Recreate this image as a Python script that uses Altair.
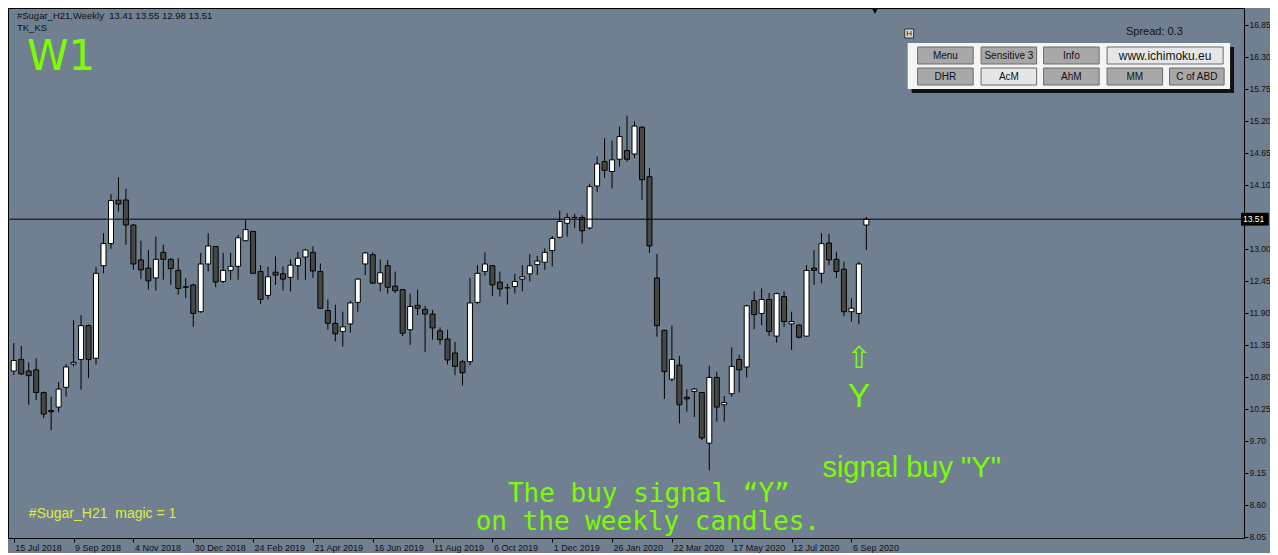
import altair as alt
import pandas as pd

# ---------------- data ----------------
opens = [10.90, 11.10, 10.90, 10.92, 10.53, 10.22, 10.28, 10.62, 11.02, 11.10,
         11.68, 11.12, 12.71, 13.09, 13.84, 13.84, 13.41, 12.81, 12.67, 12.50,
         12.94, 12.82, 12.63, 12.35, 12.38, 11.92, 12.74, 13.04, 12.44, 12.63,
         12.70, 13.14, 13.30, 12.61, 12.20, 12.60, 12.57, 12.51, 12.71, 12.86,
         12.94, 12.61, 11.94, 11.72, 11.58, 11.71, 12.08, 12.74, 12.90, 12.41,
         12.71, 12.36, 12.30, 11.61, 12.03, 11.96, 11.88, 11.59, 11.45, 11.21,
         11.06, 11.06, 12.08, 12.61, 12.71, 12.43, 12.33, 12.35, 12.48, 12.57,
         12.73, 12.77, 12.97, 13.20, 13.44, 13.54, 13.54, 13.36, 14.08, 14.50,
         14.33, 14.54, 14.69, 14.63, 15.09, 14.24, 12.50, 11.60, 10.76, 11.00,
         10.45, 10.55, 10.53, 9.66, 10.79, 10.32, 10.51, 11.10, 10.97, 12.11,
         11.89, 12.13, 11.50, 12.18, 11.71, 11.69, 11.50, 12.67, 12.58, 13.10,
         12.82, 12.65, 11.92, 11.89, 13.41]
highs = [11.38, 11.33, 11.05, 11.12, 10.55, 10.46, 10.71, 11.02, 11.78, 11.86,
         11.70, 12.69, 13.27, 13.94, 14.23, 14.03, 13.42, 13.14, 12.98, 13.21,
         13.07, 12.84, 12.84, 12.50, 12.40, 12.93, 13.27, 13.05, 12.93, 12.93,
         13.24, 13.50, 13.31, 12.72, 12.69, 12.87, 12.70, 12.82, 12.95, 13.00,
         13.04, 12.75, 12.13, 12.04, 11.92, 12.11, 12.50, 12.95, 12.94, 12.82,
         12.81, 12.61, 12.31, 12.23, 12.30, 12.02, 11.95, 11.65, 11.61, 11.40,
         11.09, 12.50, 12.72, 12.94, 12.72, 12.61, 12.40, 12.57, 12.72, 12.91,
         12.88, 13.01, 13.22, 13.66, 13.61, 13.60, 13.58, 14.12, 14.59, 14.90,
         14.86, 15.10, 15.29, 15.19, 15.11, 14.39, 12.91, 11.61, 11.68, 11.16,
         10.59, 10.61, 10.54, 10.99, 10.89, 10.47, 11.31, 11.18, 12.04, 12.27,
         12.32, 12.24, 12.25, 12.27, 11.92, 11.70, 12.72, 12.98, 13.27, 13.26,
         12.95, 12.78, 12.15, 12.78, 13.55]
lows = [10.83, 10.83, 10.32, 10.40, 10.09, 9.88, 10.19, 10.46, 10.98, 10.58,
        10.78, 11.01, 12.58, 13.00, 13.64, 13.07, 12.64, 12.48, 12.30, 12.28,
        12.47, 12.38, 12.21, 12.15, 11.66, 11.90, 12.61, 12.34, 12.41, 12.47,
        12.47, 13.13, 12.58, 12.05, 12.13, 12.38, 12.28, 12.27, 12.47, 12.47,
        12.50, 11.98, 11.61, 11.41, 11.32, 11.56, 11.92, 12.55, 12.40, 12.27,
        12.23, 12.24, 11.50, 11.35, 11.86, 11.23, 11.44, 11.35, 11.01, 10.83,
        10.65, 11.00, 12.05, 12.54, 12.19, 12.18, 12.04, 12.23, 12.27, 12.44,
        12.55, 12.64, 12.70, 13.18, 13.21, 13.36, 13.09, 13.33, 13.98, 14.22,
        14.04, 14.41, 14.50, 14.56, 13.84, 12.93, 11.49, 10.42, 10.72, 10.00,
        10.20, 10.11, 9.71, 9.19, 10.03, 10.03, 10.46, 10.53, 10.79, 11.62,
        11.69, 11.50, 11.39, 11.66, 11.26, 11.46, 11.49, 12.38, 12.41, 12.72,
        12.50, 11.84, 11.75, 11.71, 12.98]
closes = [11.08, 10.85, 10.82, 10.53, 10.16, 10.20, 10.59, 10.97, 11.05, 11.68,
          11.10, 12.58, 13.09, 13.83, 13.77, 13.41, 12.74, 12.64, 12.45, 12.82,
          12.82, 12.66, 12.32, 12.34, 11.89, 12.74, 13.05, 12.43, 12.63, 12.70,
          13.19, 13.33, 12.58, 12.13, 12.52, 12.55, 12.48, 12.72, 12.84, 12.98,
          12.62, 11.98, 11.72, 11.54, 11.66, 12.07, 12.48, 12.93, 12.41, 12.59,
          12.34, 12.28, 11.55, 12.01, 11.98, 11.88, 11.64, 11.44, 11.09, 10.98,
          10.87, 12.07, 12.58, 12.74, 12.38, 12.31, 12.33, 12.44, 12.52, 12.71,
          12.79, 12.94, 13.18, 13.47, 13.54, 13.54, 13.31, 14.07, 14.46, 14.35,
          14.53, 14.93, 14.54, 15.11, 14.19, 13.05, 11.68, 10.89, 11.10, 10.32,
          10.42, 10.59, 9.75, 10.79, 10.28, 10.36, 10.98, 10.92, 12.02, 11.87,
          12.13, 11.58, 12.23, 11.75, 11.75, 11.48, 12.63, 12.63, 13.09, 12.81,
          12.61, 11.92, 11.98, 12.74, 13.51]
date_labels = ["15 Jul 2018", "9 Sep 2018", "4 Nov 2018", "30 Dec 2018",
               "24 Feb 2019", "21 Apr 2019", "16 Jun 2019", "11 Aug 2019",
               "6 Oct 2019", "1 Dec 2019", "26 Jan 2020", "22 Mar 2020",
               "17 May 2020", "12 Jul 2020", "6 Sep 2020"]
price_ticks = [16.85, 16.30, 15.75, 15.20, 14.65, 14.10, 13.00, 12.45,
               11.90, 11.35, 10.80, 10.25, 9.70, 9.15, 8.60, 8.05]
current_price = 13.51
header_text = "#Sugar_H21,Weekly\u00a0\u00a013.41 13.55 12.98 13.51"
magic_text = "#Sugar_H21\u00a0\u00a0magic = 1"
row1_buttons = ["Menu", "Sensitive 3", "Info", "www.ichimoku.eu"]
row2_buttons = ["DHR", "AcM", "AhM", "MM", "C of ABD"]

# ---------------- layout ----------------
W, H = 1236, 530
PX_PER_BAR = 7.54
XMIN = -0.1
XMAX = XMIN + W / PX_PER_BAR
YMIN, YMAX = 8.03, 17.14
DX = W - 1244          # shift for elements anchored to the right axis
AXIS_PX = 8 + W
BG = "#708090"
GREEN = "#7CFC00"
FONT = "Liberation Sans"


def px_x(px):
    return XMIN + (px - 8) / W * (XMAX - XMIN)


def px_y(py):
    return YMAX - (py - 8) / H * (YMAX - YMIN)


label_expr = "[" + ",".join("'%s'" % d for d in date_labels) + "][round(datum.value/8)]"

XAXIS = alt.Axis(values=[8 * k for k in range(len(date_labels))], labelExpr=label_expr,
                 labelAlign="left", labelBaseline="top", labelPadding=1, tickSize=4,
                 tickColor="black", domainColor="black", labelColor="#111111",
                 labelFont=FONT, labelFontSize=9, labelOverlap=False, labelFlush=False,
                 labelBound=False, grid=False, title=None, labelOffset=1)
YAXIS = alt.Axis(orient="right", values=price_ticks, format=".2f", tickSize=4,
                 tickColor="black", domainColor="black", labelColor="#111111",
                 labelFont=FONT, labelFontSize=8.5, labelPadding=1, grid=False,
                 title=None, labelOverlap=False, labelBound=False)
XS = alt.Scale(domain=[XMIN, XMAX], nice=False, zero=False)
YS = alt.Scale(domain=[YMIN, YMAX], nice=False, zero=False)


def xe(f):
    return alt.X(f + ":Q", scale=XS, axis=XAXIS)


def ye(f):
    return alt.Y(f + ":Q", scale=YS, axis=YAXIS)


n = len(opens)
candles = pd.DataFrame({
    "idx": list(range(n)),
    "open": opens, "high": highs, "low": lows, "close": closes,
})
candles["top"] = candles[["open", "close"]].max(axis=1)
candles["bot"] = candles[["open", "close"]].min(axis=1)
candles["dir"] = ["up" if c >= o else "down" for o, c in zip(opens, closes)]

wicks = alt.Chart(candles).mark_rule(color="black", strokeWidth=1).encode(
    x=xe("idx"), y=ye("low"), y2="high")
bodies = alt.Chart(candles).mark_bar(size=5, stroke="black", strokeWidth=1).encode(
    x=xe("idx"), y=ye("bot"), y2="top",
    color=alt.Color("dir:N", scale=alt.Scale(domain=["up", "down"], range=["#ffffff", "#474747"]),
                    legend=None))

price_df = pd.DataFrame({"p": [current_price], "t": ["%.2f" % current_price],
                         "x1": [px_x(AXIS_PX + 2)], "x2": [px_x(AXIS_PX + 30)],
                         "xt": [px_x(AXIS_PX + 4)],
                         "y1": [current_price + 0.11], "y2": [current_price - 0.11]})
hline = alt.Chart(price_df).mark_rule(color="black", strokeWidth=1).encode(y=ye("p"))
tag = alt.Chart(price_df).mark_rect(color="black").encode(x=xe("x1"), x2="x2", y=ye("y1"), y2="y2")
tag_text = alt.Chart(price_df).mark_text(color="white", font=FONT, fontSize=8.5, align="left",
                                         baseline="middle").encode(x=xe("xt"), y=ye("p"), text="t")


def text_layer(px, py, txt, color, size, align="left", baseline="middle", font=FONT, weight="normal"):
    df = pd.DataFrame({"x": [px_x(px)], "y": [px_y(py)], "t": [txt]})
    return alt.Chart(df).mark_text(color=color, fontSize=size, align=align, baseline=baseline,
                                   font=font, fontWeight=weight).encode(x=xe("x"), y=ye("y"), text="t")


def rect_layer(x1, x2, y1, y2, fill, stroke=None):
    df = pd.DataFrame({"x": [px_x(x1)], "x2": [px_x(x2)], "y": [px_y(y1)], "y2": [px_y(y2)]})
    kw = dict(color=fill)
    if stroke:
        kw.update(stroke=stroke, strokeWidth=1)
    return alt.Chart(df).mark_rect(**kw).encode(x=xe("x"), x2="x2", y=ye("y"), y2="y2")


layers = [wicks, bodies, hline, tag, tag_text]

# header texts
layers.append(text_layer(12, 16, header_text, "#111111", 9.5))
layers.append(text_layer(12, 28, "TK_KS", "#111111", 9.5))
layers.append(text_layer(22, 70, "W1", GREEN, 42, baseline="alphabetic", font="DejaVu Sans"))

# signal annotations
layers.append(text_layer(861, 368, "⇧", GREEN, 30, align="center", baseline="alphabetic", font="DejaVu Sans"))
layers.append(text_layer(861, 407, "Y", GREEN, 33, align="center", baseline="alphabetic"))
layers.append(text_layer(914, 477, 'signal buy "Y"', GREEN, 29, align="center", baseline="alphabetic"))
layers.append(text_layer(649, 502, "The buy signal “Y”", GREEN, 26, align="center",
                         baseline="alphabetic", font="DejaVu Sans Mono"))
layers.append(text_layer(648, 530, "on the weekly candles.", GREEN, 26, align="center",
                         baseline="alphabetic", font="DejaVu Sans Mono"))
layers.append(text_layer(24, 518, magic_text, "#E0EC3C", 14, baseline="alphabetic"))

# button panel (anchored to the right axis)
layers.append(text_layer(1138 + DX, 32, "Spread: 0.3", "#111111", 11))
layers.append(rect_layer(915 + DX, 924 + DX, 29, 38, "#D8D8D8", "#333333"))
layers.append(text_layer(919.5 + DX, 33.5, "H", "#111111", 8, align="center"))
layers.append(rect_layer(922 + DX, 1247 + DX, 47, 93, "#101010"))
layers.append(rect_layer(918 + DX, 1243 + DX, 43, 89, "#F4F4F4"))

row1_x = [(928, 984), (992, 1048), (1055, 1111), (1119, 1236)]
row2_x = [(928, 984), (992, 1048), (1055, 1111), (1119, 1175), (1182, 1237)]
light = {"www.ichimoku.eu", "AcM"}
for labels, xs, (yt, yb) in [(row1_buttons, row1_x, (47, 64)), (row2_buttons, row2_x, (68, 85))]:
    for lab, (x1, x2) in zip(labels, xs):
        fill = "#E6E6E6" if lab in light else "#A8A8A8"
        layers.append(rect_layer(x1 + DX, x2 + DX, yt, yb, fill, "#6A6A6A"))
        layers.append(text_layer((x1 + x2) / 2 + DX, (yt + yb) / 2 + 0.5, lab, "#111111",
                                 12 if lab == "www.ichimoku.eu" else 10, align="center"))

# shift marker at top
mk = pd.DataFrame({"x": [px_x(877)], "y": [px_y(11)]})
layers.append(alt.Chart(mk).mark_point(shape="triangle-down", filled=True, color="black", size=40,
                                       opacity=1).encode(x=xe("x"), y=ye("y")))

chart = alt.layer(*layers).properties(
    width=W, height=H, background=BG,
    autosize=alt.AutoSizeParams(type="none"),
    padding={"left": 0, "top": 0, "right": 1262 - W, "bottom": 15},
).configure_view(stroke="black", strokeWidth=1)

chart.save("out.html", embed_options={"renderer": "svg", "actions": False})
